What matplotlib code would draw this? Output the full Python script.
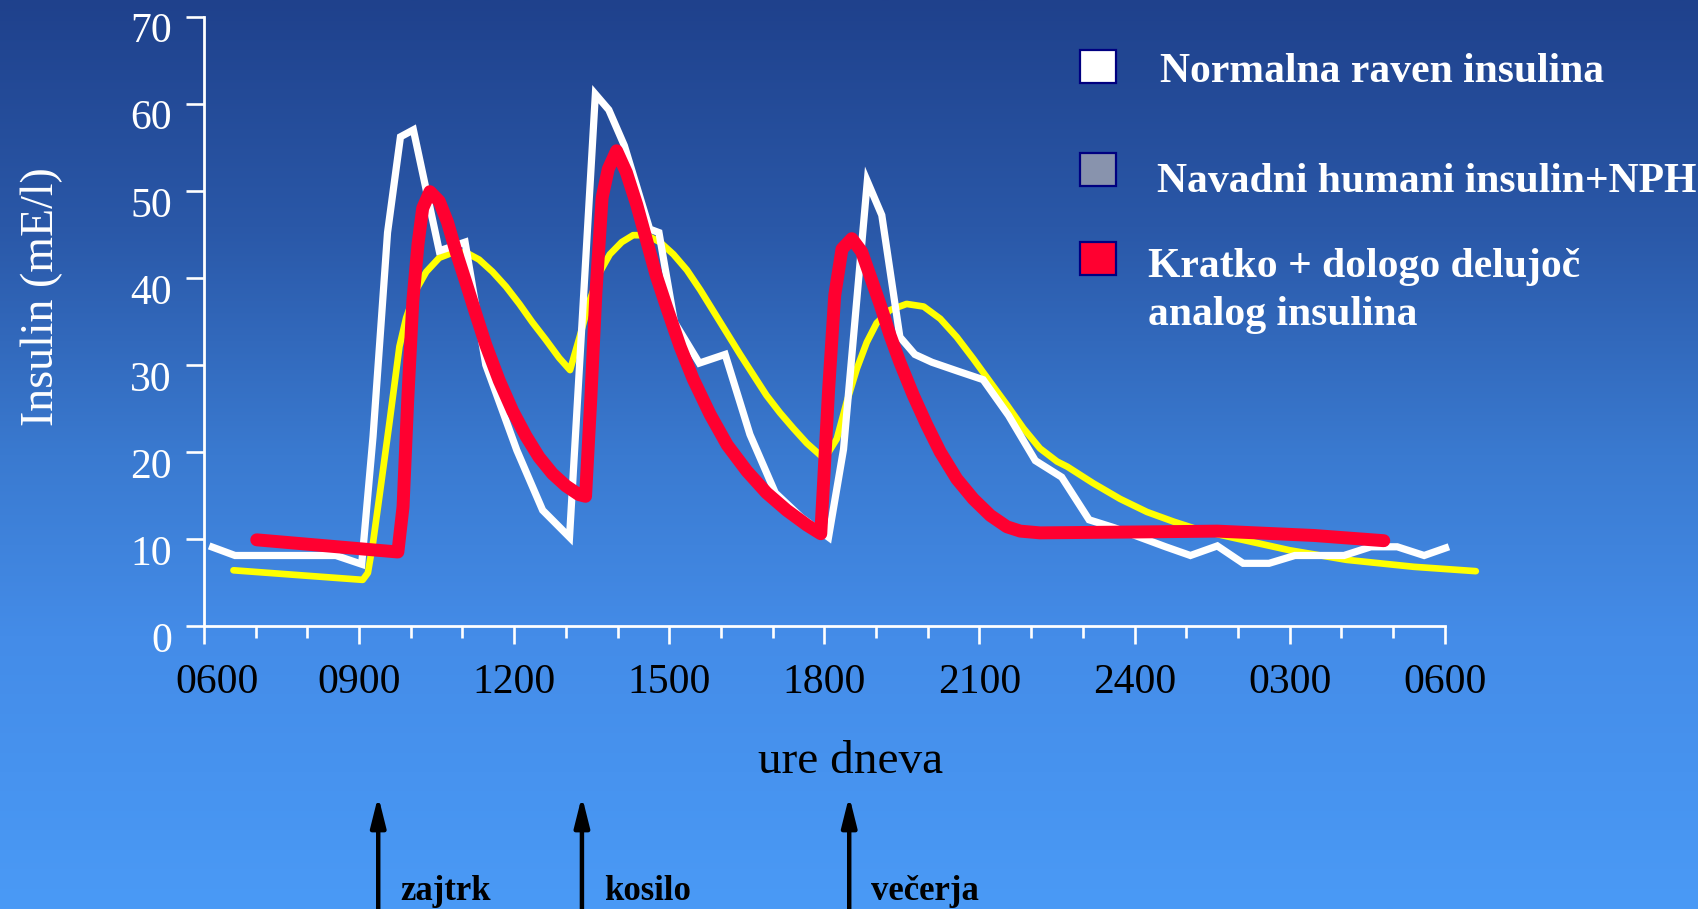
import numpy as np
import matplotlib
matplotlib.use("Agg")
import matplotlib.pyplot as plt
from matplotlib.patches import Rectangle
from matplotlib import transforms

# ---- data: insulin level (mE/l) vs. hour of day (6 = 06:00, 30 = 06:00 next day)
normal_h = [6.1, 6.6, 8.55, 9.05, 9.27, 9.55, 9.8, 10.05, 10.55, 11.05, 11.45, 12.05,
            12.55, 13.07, 13.57, 13.83, 14.13, 14.62, 14.8, 15.1, 15.58, 16.08, 16.56,
            17.05, 17.55, 18.08, 18.37, 18.83, 19.11, 19.46, 19.75, 20.08, 20.57, 21.07,
            21.56, 22.08, 22.59, 23.12, 23.6, 24.6, 25.08, 25.6, 26.1, 26.6, 27.1, 28.05,
            28.57, 29.08, 29.6, 30.08]
normal_v = [9.2, 8.1, 8.1, 7.1, 21.8, 45.2, 56.2, 57.0, 43.1, 44.1, 30.0, 20.2,
            13.3, 10.2, 61.1, 59.3, 55.2, 45.6, 45.2, 34.9, 30.2, 31.2, 22.0,
            15.3, 12.5, 10.2, 20.3, 51.1, 47.2, 33.2, 31.2, 30.3, 29.3, 28.3,
            24.2, 19.0, 17.1, 12.2, 11.3, 9.1, 8.1, 9.2, 7.2, 7.2, 8.1, 8.1,
            9.1, 9.1, 8.1, 9.1]

nph_h = [6.57, 9.07, 9.17, 9.27, 9.43, 9.59, 9.78, 9.91, 10.1, 10.3, 10.55, 10.81,
         11.07, 11.32, 11.58, 11.84, 12.1, 12.35, 12.61, 12.87, 13.08,
         13.27, 13.46, 13.66, 13.85, 14.08, 14.3, 14.56, 14.82, 15.08, 15.34, 15.6,
         15.85, 16.11, 16.37, 16.63, 16.88, 17.14, 17.4, 17.66, 18.0,
         18.24, 18.43, 18.63, 18.82, 19.01, 19.27, 19.59, 19.92, 20.24, 20.56, 20.88,
         21.21, 21.53, 21.85, 22.17, 22.5, 22.7, 23.2, 23.72, 24.24, 24.75, 25.27,
         25.86, 27.0, 28.1, 29.4, 30.6]
nph_v = [6.4, 5.3, 6.1, 9.6, 16.5, 23.5, 32.1, 35.4, 38.6, 40.7, 42.3, 42.9,
         42.9, 42.1, 40.7, 39.0, 37.0, 34.9, 32.9, 30.8, 29.4,
         33.3, 37.4, 40.7, 42.7, 44.1, 44.9, 44.9, 44.1, 42.7, 40.9, 38.6,
         36.2, 33.7, 31.2, 28.8, 26.5, 24.5, 22.7, 21.0, 19.2,
         21.5, 25.7, 29.6, 32.6, 34.8, 36.3, 37.0, 36.7, 35.3, 33.2, 30.7,
         28.0, 25.4, 22.7, 20.4, 18.9, 18.3, 16.4, 14.6, 13.1, 12.0, 11.0,
         10.2, 8.7, 7.6, 6.8, 6.3]

analog_h = [7.02, 9.75, 9.85, 9.94, 10.04, 10.14, 10.23, 10.37, 10.55, 10.71, 10.87,
            11.07, 11.26, 11.45, 11.71, 11.97, 12.23, 12.48, 12.74, 13.0, 13.25, 13.38,
            13.48, 13.58, 13.7, 13.82, 13.98, 14.17, 14.37, 14.56, 14.75, 14.95, 15.21,
            15.46, 15.79, 16.12, 16.5, 16.88, 17.27, 17.66, 17.93,
            18.08, 18.2, 18.34, 18.53, 18.72, 18.88, 19.08, 19.27, 19.46, 19.72, 19.98,
            20.24, 20.56, 20.88, 21.21, 21.53, 21.79, 22.17, 24.0, 25.6, 27.47, 28.82]
analog_v = [9.9, 8.5, 13.7, 25.9, 37.4, 43.9, 48.0, 49.9, 48.8, 46.4, 43.1,
            39.4, 35.8, 32.3, 28.2, 24.7, 21.8, 19.4, 17.5, 16.1, 15.1, 14.9,
            25.9, 38.2, 49.2, 52.5, 54.6, 52.1, 48.4, 44.3, 40.2, 36.6, 32.1,
            28.4, 24.3, 20.8, 17.8, 15.3, 13.3, 11.6, 10.6,
            27.0, 38.0, 43.3, 44.5, 43.0, 40.3, 36.9, 33.4, 30.3, 26.5, 23.1,
            20.0, 16.9, 14.6, 12.7, 11.4, 10.9, 10.7, 10.8, 10.9, 10.4, 9.8]

hour_ticks = list(range(6, 31))
major_hours = [6, 9, 12, 15, 18, 21, 24, 27, 30]
major_labels = ["0600", "0900", "1200", "1500", "1800", "2100", "2400", "0300", "0600"]
y_ticks = [0, 10, 20, 30, 40, 50, 60, 70]

legend_labels = ["Normalna raven insulina",
                 "Navadni humani insulin+NPH",
                 "Kratko + dologo delujoč\nanalog insulina"]
legend_colors = ["#FFFFFF", "#8893AD", "#FF0030"]

meal_hours = [9.37, 13.31, 18.48]
meal_labels = ["zajtrk", "kosilo", "večerja"]

# ---- figure
W, H = 1699, 909
DPI = 100
plt.rcParams["font.family"] = ["Liberation Serif", "DejaVu Serif"]
fig = plt.figure(figsize=(W / DPI, H / DPI), dpi=DPI)


def fx(px):
    return px / W


def fy(py):
    return 1 - py / H


# vertical blue gradient background
bg = fig.add_axes([0, 0, 1, 1], zorder=-10)
stop_pos = np.array([0.0, 0.25, 0.5, 0.7, 1.0])
stop_rgb = np.array([[31, 65, 140], [42, 88, 168], [58, 122, 208],
                     [68, 140, 232], [74, 154, 246]]) / 255.0
t = np.linspace(0, 1, 600)
grad = np.stack([np.interp(t, stop_pos, stop_rgb[:, k]) for k in range(3)], axis=1)
bg.imshow(grad[:, None, :], aspect="auto", extent=[0, 1, 0, 1], origin="upper")
bg.set_xlim(0, 1)
bg.set_ylim(0, 1)
bg.axis("off")

# main axes
x0, x1 = 6, 31
px_per_h = 51.7
ax_left, ax_bottom, ax_top = 204, 626, 16.7
ax = fig.add_axes([fx(ax_left), fy(ax_bottom), (x1 - x0) * px_per_h / W,
                   (ax_bottom - ax_top) / H])
ax.set_facecolor("none")
ax.set_xlim(x0, x1)
ax.set_ylim(0, 70)
for s in ["top", "right"]:
    ax.spines[s].set_visible(False)
ax.spines["left"].set_bounds(0, 70)
ax.spines["bottom"].set_bounds(6, 30)
for s in ["left", "bottom"]:
    ax.spines[s].set_color("white")
    ax.spines[s].set_linewidth(2.0)

ax.set_yticks(y_ticks)
ax.set_yticklabels([str(v) for v in y_ticks])
ax.set_xticks(major_hours)
ax.set_xticklabels(major_labels)
ax.set_xticks(hour_ticks, minor=True)
ax.tick_params(axis="y", direction="out", length=13, width=1.9, color="white",
               labelcolor="white", labelsize=30, pad=10)
ax.tick_params(axis="x", which="major", direction="out", length=13, width=1.9,
               color="white", labelcolor="black", labelsize=30, pad=14)
ax.tick_params(axis="x", which="minor", direction="out", length=8.6, width=1.9,
               color="white")
shift_down = transforms.ScaledTranslation(0, -11 / DPI, fig.dpi_scale_trans)
for lbl in ax.get_yticklabels():
    lbl.set_transform(lbl.get_transform() + shift_down)
first_x = ax.get_xticklabels()[0]
first_x.set_transform(first_x.get_transform() +
                      transforms.ScaledTranslation(13 / DPI, 0, fig.dpi_scale_trans))

ax.set_xlabel("ure dneva", fontsize=34, color="black", va="baseline")
ax.xaxis.set_label_coords(0.5, (ax_bottom - 773) / (ax_bottom - ax_top))
ax.set_ylabel("Insulin (mE/l)", fontsize=33, color="white", va="center")
ax.yaxis.set_label_coords((42 - ax_left) / ((x1 - x0) * px_per_h),
                          (ax_bottom - 297) / (ax_bottom - ax_top))

# curves
ax.plot(nph_h, nph_v, color="#FFFF00", lw=4.8, solid_capstyle="round",
        solid_joinstyle="round", clip_on=False, zorder=3)
ax.plot(normal_h, normal_v, color="white", lw=5.2, solid_capstyle="butt",
        solid_joinstyle="miter", clip_on=False, zorder=4)
ax.plot(analog_h, analog_v, color="#FF0030", lw=9.3, solid_capstyle="round",
        solid_joinstyle="round", clip_on=False, zorder=5)

# legend
sq_x, sq_w, sq_h = 1080, 36, 33
sq_tops = [50, 153, 242]
txt_x = [1160, 1157, 1148]
txt_base = [82, 192, 277]
line_gap = 48
for lab, col, top, tx, tb in zip(legend_labels, legend_colors, sq_tops, txt_x, txt_base):
    fig.add_artist(Rectangle((fx(sq_x), fy(top + sq_h)), sq_w / W, sq_h / H,
                             transform=fig.transFigure, facecolor=col,
                             edgecolor="#000080", linewidth=1.6))
    for i, line in enumerate(lab.split("\n")):
        fig.text(fx(tx), fy(tb + i * line_gap), line, color="white", fontsize=30,
                 fontweight="bold", ha="left", va="baseline")

# meal arrows along the time axis
trans = transforms.blended_transform_factory(ax.transData, fig.transFigure)
text_off = transforms.ScaledTranslation(22 / DPI, 0, fig.dpi_scale_trans)
for h, lab in zip(meal_hours, meal_labels):
    ax.annotate("", xy=(h, fy(796)), xytext=(h, fy(909)), xycoords=trans,
                textcoords=trans, annotation_clip=False,
                arrowprops=dict(arrowstyle="-|>,head_length=0.6,head_width=0.15",
                                mutation_scale=30, color="black", lw=3.2,
                                shrinkA=0, shrinkB=0))
    ax.text(h, fy(900), lab, transform=trans + text_off, fontsize=25,
            fontweight="bold", color="black", ha="left", va="baseline",
            clip_on=False)

fig.savefig("out.png", dpi=DPI)
